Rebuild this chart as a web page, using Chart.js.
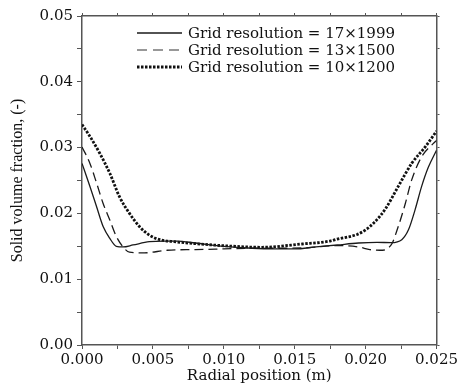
<!DOCTYPE html>
<html>
<head>
<meta charset="utf-8">
<script src="https://cdn.jsdelivr.net/npm/chart.js@4.4.0/dist/chart.umd.min.js"></script>
<style>
  html, body { margin: 0; padding: 0; background: #fff; }
  #wrap { width: 460px; height: 385px; }
</style>
</head>
<body>
<div id="wrap"><canvas id="chart" width="460" height="385"></canvas></div>
<script>
"use strict";

// series labels
var seriesLabels = ["Grid resolution = 17\u00d71999", "Grid resolution = 13\u00d71500", "Grid resolution = 10\u00d71200"];

// 17x1999 (solid)
var radialA = [0, 0.00056, 0.00103, 0.00149, 0.00196, 0.00242, 0.0029, 0.0036, 0.00475, 0.0058, 0.0067, 0.008, 0.010, 0.012, 0.0135, 0.015, 0.0165, 0.018, 0.0195, 0.0208, 0.0218, 0.02255, 0.02302, 0.02348, 0.02395, 0.02442, 0.025];
var fracA   = [0.0276, 0.0241, 0.0210, 0.0180, 0.0162, 0.0150, 0.0149, 0.0152, 0.0157, 0.0158, 0.0158, 0.0155, 0.0150, 0.0147, 0.0146, 0.0146, 0.0149, 0.0152, 0.0155, 0.0156, 0.01555, 0.0160, 0.0175, 0.0205, 0.0241, 0.0270, 0.0296];

// 13x1500 (dashed)
var radialB = [0, 0.00056, 0.00103, 0.00149, 0.00196, 0.00242, 0.0029, 0.00335, 0.0044, 0.006, 0.008, 0.010, 0.012, 0.014, 0.016, 0.018, 0.0195, 0.0203, 0.021, 0.0218, 0.0223, 0.0228, 0.02325, 0.02395, 0.02476, 0.025];
var fracB   = [0.0301, 0.0276, 0.0246, 0.0215, 0.0190, 0.0165, 0.0149, 0.0141, 0.0140, 0.0144, 0.0145, 0.0146, 0.0147, 0.0147, 0.0148, 0.0151, 0.0149, 0.0145, 0.0144, 0.0152, 0.0180, 0.0215, 0.0251, 0.0286, 0.0306, 0.0311];

// 10x1200 (dotted)
var radialC = [0, 0.00056, 0.00126, 0.00196, 0.00265, 0.00335, 0.00405, 0.00475, 0.0055, 0.0065, 0.008, 0.0103, 0.0127, 0.0155, 0.0175, 0.018, 0.0194, 0.0200, 0.0206, 0.0214, 0.0223, 0.02325, 0.0242, 0.025];
var fracC   = [0.0335, 0.0317, 0.0291, 0.0261, 0.0225, 0.0200, 0.0180, 0.0167, 0.0160, 0.0157, 0.0154, 0.01505, 0.01485, 0.01535, 0.0158, 0.0161, 0.0168, 0.0175, 0.0186, 0.0207, 0.0241, 0.0276, 0.0301, 0.0325];

// axis ranges / titles
var xRange = [0, 0.025];
var yRange = [0, 0.05];
var xTitle = "Radial position (m)";
var yTitle = "Solid volume fraction, (-)";

function pts(xs, ys) {
    return xs.map(function(x, i) { return { x: x, y: ys[i] }; });
}

var axisColor = "#555";
var inkColor = "#111";
var tickFont = { family: "DejaVu Serif", size: 15 };

// legend drawn inside the plot, top right
var innerLegend = {
    id: "innerLegend",
    afterDatasetsDraw: function(chart) {
        var ctx = chart.ctx, area = chart.chartArea;
        ctx.save();
        ctx.font = "15px 'DejaVu Serif'";
        ctx.textBaseline = "middle";
        ctx.fillStyle = inkColor;
        chart.data.datasets.forEach(function(ds, i) {
            var y = area.top + 17 + i * 17;
            ctx.beginPath();
            ctx.strokeStyle = ds.legendColor || ds.borderColor;
            ctx.lineWidth = ds.borderWidth;
            ctx.setLineDash(ds.legendDash || ds.borderDash || []);
            ctx.moveTo(area.left + 55, y);
            ctx.lineTo(area.left + 100, y);
            ctx.stroke();
            ctx.setLineDash([]);
            ctx.fillText(ds.label, area.left + 106, y + 1);
        });
        ctx.restore();
    }
};

new Chart(document.getElementById("chart"), {
    type: "line",
    data: {
        datasets: [{
            label: seriesLabels[0],
            data: pts(radialA, fracA),
            borderColor: "#1a1a1a",
            borderWidth: 1.3,
            borderDash: []
        }, {
            label: seriesLabels[1],
            data: pts(radialB, fracB),
            borderColor: "#1a1a1a",
            legendColor: "#777",
            borderWidth: 1.3,
            borderDash: [9, 5],
            legendDash: [10, 6]
        }, {
            label: seriesLabels[2],
            data: pts(radialC, fracC),
            borderColor: "#111",
            borderWidth: 2.8,
            borderDash: [2.5, 1.5]
        }]
    },
    options: {
        responsive: false,
        animation: false,
        layout: { padding: 0 },
        elements: {
            point: { radius: 0 },
            line: { cubicInterpolationMode: "monotone", fill: false }
        },
        plugins: {
            legend: { display: false },
            tooltip: { enabled: false }
        },
        scales: {
            x: {
                type: "linear",
                position: "bottom",
                min: xRange[0],
                max: xRange[1],
                ticks: {
                    stepSize: 0.0025,
                    autoSkip: false,
                    maxRotation: 0,
                    padding: 2,
                    color: inkColor,
                    font: tickFont,
                    callback: function(v) {
                        return Math.round(v / 0.0025) % 2 === 0 ? v.toFixed(3) : "";
                    }
                },
                grid: { drawOnChartArea: false, drawTicks: true, tickLength: 4, color: axisColor },
                border: { color: axisColor, width: 1.5 },
                title: {
                    display: true,
                    text: xTitle,
                    color: inkColor,
                    font: { family: "DejaVu Serif", size: 15 },
                    padding: { top: 0, bottom: 0 }
                },
                afterFit: function(s) { s.height = 40; }
            },
            xTop: {
                type: "linear",
                position: "top",
                min: xRange[0],
                max: xRange[1],
                ticks: { display: false, stepSize: 0.0025 },
                grid: { drawOnChartArea: false, drawTicks: true, tickLength: 3, color: axisColor },
                border: { color: axisColor, width: 1.5 },
                afterFit: function(s) { s.height = 16; }
            },
            y: {
                type: "linear",
                position: "left",
                min: yRange[0],
                max: yRange[1],
                ticks: {
                    stepSize: 0.005,
                    autoSkip: false,
                    padding: 4,
                    color: inkColor,
                    font: tickFont,
                    callback: function(v) {
                        return Math.round(v / 0.005) % 2 === 0 ? v.toFixed(2) : "";
                    }
                },
                grid: { drawOnChartArea: false, drawTicks: true, tickLength: 5, color: axisColor },
                border: { color: axisColor, width: 1.5 },
                title: {
                    display: true,
                    text: yTitle,
                    color: inkColor,
                    font: { family: "Liberation Serif", size: 16 },
                    padding: { top: 8, bottom: 0 }
                },
                afterFit: function(s) { s.width = 82; }
            },
            yRight: {
                type: "linear",
                position: "right",
                min: yRange[0],
                max: yRange[1],
                ticks: { display: false, stepSize: 0.005 },
                grid: { drawOnChartArea: false, drawTicks: true, tickLength: 3, color: axisColor },
                border: { color: axisColor, width: 1.5 },
                afterFit: function(s) { s.width = 20; }
            }
        }
    },
    plugins: [innerLegend]
});
</script>
</body>
</html>
